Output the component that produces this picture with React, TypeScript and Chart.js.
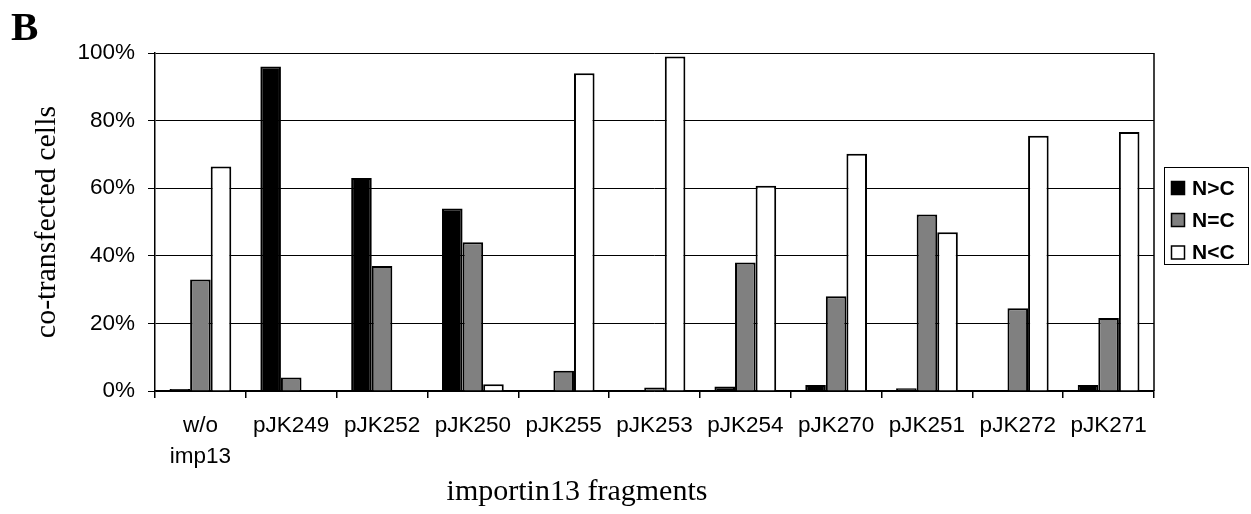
import React, { useEffect, useRef } from "react";
import { Chart, registerables } from "chart.js";

Chart.register(...registerables);

const categories: (string | string[])[] = [
  ["w/o", "imp13"],
  "pJK249",
  "pJK252",
  "pJK250",
  "pJK255",
  "pJK253",
  "pJK254",
  "pJK270",
  "pJK251",
  "pJK272",
  "pJK271",
];

const seriesNames = ["N>C", "N=C", "N<C"];
const seriesColors = ["#000000", "#808080", "#ffffff"];

const nGreaterC = [0.6, 96, 63, 54, 0, 0, 1.3, 1.8, 0.8, 0, 1.8];
const nEqualC = [33, 4, 37, 44, 6, 1, 38, 28, 52.2, 24.5, 21.6];
const nLessC = [66.4, 0, 0, 2, 94, 99, 60.7, 70.2, 47, 75.5, 76.6];

const yTicks = [0, 20, 40, 60, 80, 100];

const yTitle = "co-transfected cells";
const xTitle = "importin13 fragments";
const panelLabel = "B";

const SANS = '"Liberation Sans", Arial, sans-serif';
const SERIF = '"Liberation Serif", "Times New Roman", serif';

const extrasPlugin = {
  id: "extras",
  afterDraw(chart: any) {
    const { ctx, chartArea } = chart;
    ctx.save();
    // right border of plot
    ctx.strokeStyle = "#000";
    ctx.lineWidth = 1.5;
    ctx.beginPath();
    ctx.moveTo(chartArea.right, chartArea.top);
    ctx.lineTo(chartArea.right, chartArea.bottom);
    ctx.stroke();

    // panel label
    ctx.fillStyle = "#000";
    ctx.font = `bold 41px ${SERIF}`;
    ctx.textAlign = "left";
    ctx.textBaseline = "alphabetic";
    ctx.fillText(panelLabel, 11, 40);

    // legend box
    const bx = 1164;
    const by = 167;
    const bw = 84;
    const bh = 97;
    ctx.lineWidth = 1;
    ctx.strokeStyle = "#000";
    ctx.fillStyle = "#fff";
    ctx.fillRect(bx, by, bw, bh);
    ctx.strokeRect(bx + 0.5, by + 0.5, bw, bh);
    const rowY = [188, 220, 252.5];
    chart.data.datasets.forEach((ds: any, i: number) => {
      const cy = rowY[i];
      ctx.fillStyle = ds.backgroundColor;
      ctx.fillRect(1171.5, cy - 6.5, 13, 13);
      ctx.lineWidth = 1.5;
      ctx.strokeStyle = "#000";
      ctx.strokeRect(1171.5, cy - 6.5, 13, 13);
      ctx.fillStyle = "#000";
      ctx.font = `bold 21px ${SANS}`;
      ctx.textAlign = "left";
      ctx.textBaseline = "middle";
      ctx.fillText(ds.label, 1192, cy + 1);
    });
    ctx.restore();
  },
};

export default function App() {
  const canvasRef = useRef<HTMLCanvasElement | null>(null);

  useEffect(() => {
    const canvas = canvasRef.current;
    if (!canvas) return;
    const values = [nGreaterC, nEqualC, nLessC];
    const chart = new Chart(canvas, {
      type: "bar",
      data: {
        labels: categories,
        datasets: seriesNames.map((name, i) => ({
          label: name,
          data: values[i],
          backgroundColor: seriesColors[i],
          borderColor: "#000",
          borderWidth: 2,
          categoryPercentage: 0.68,
          barPercentage: 1.0,
        })),
      },
      options: {
        responsive: false,
        animation: false,
        devicePixelRatio: 1,
        layout: { padding: { left: 0, top: 53, right: 97, bottom: 0 } },
        plugins: {
          legend: { display: false },
          tooltip: { enabled: false },
          title: {
            display: true,
            position: "bottom",
            text: xTitle,
            color: "#000",
            font: { family: SERIF, size: 30, weight: "normal", lineHeight: 1.2 },
            padding: { top: 0, bottom: 4 },
          },
        },
        scales: {
          x: {
            type: "category",
            grid: {
              display: true,
              drawOnChartArea: false,
              drawTicks: true,
              tickLength: 7,
              offset: true,
              color: "#000",
              lineWidth: 1.5,
            },
            border: { display: true, color: "#000", width: 1.5 },
            ticks: {
              color: "#000",
              font: { family: SANS, size: 22.5, lineHeight: 1.35 },
              padding: 13,
              maxRotation: 0,
              minRotation: 0,
              autoSkip: false,
            },
            afterFit: (scale: any) => {
              scale.height = 83;
            },
          },
          y: {
            min: 0,
            max: 100,
            afterBuildTicks: (scale: any) => {
              scale.ticks = yTicks.map((v) => ({ value: v }));
            },
            grid: {
              color: "#000",
              lineWidth: 1,
              drawTicks: true,
              tickLength: 7,
            },
            border: { display: true, color: "#000", width: 1.5 },
            ticks: {
              color: "#000",
              font: { family: SANS, size: 22.5 },
              padding: 13,
              callback: (v: any) => `${v}%`,
            },
            title: {
              display: true,
              text: yTitle,
              color: "#000",
              font: { family: SERIF, size: 30, lineHeight: 1.2 },
              padding: { top: 29, bottom: 0 },
            },
            afterFit: (scale: any) => {
              scale.width = 155;
            },
          },
        },
      },
      plugins: [extrasPlugin],
    } as any);
    return () => chart.destroy();
  }, []);

  return (
    <div style={{ position: "absolute", left: 0, top: 0, width: 1251, height: 514, background: "#fff" }}>
      <canvas ref={canvasRef} width={1251} height={514} style={{ display: "block", width: 1251, height: 514 }} />
    </div>
  );
}
